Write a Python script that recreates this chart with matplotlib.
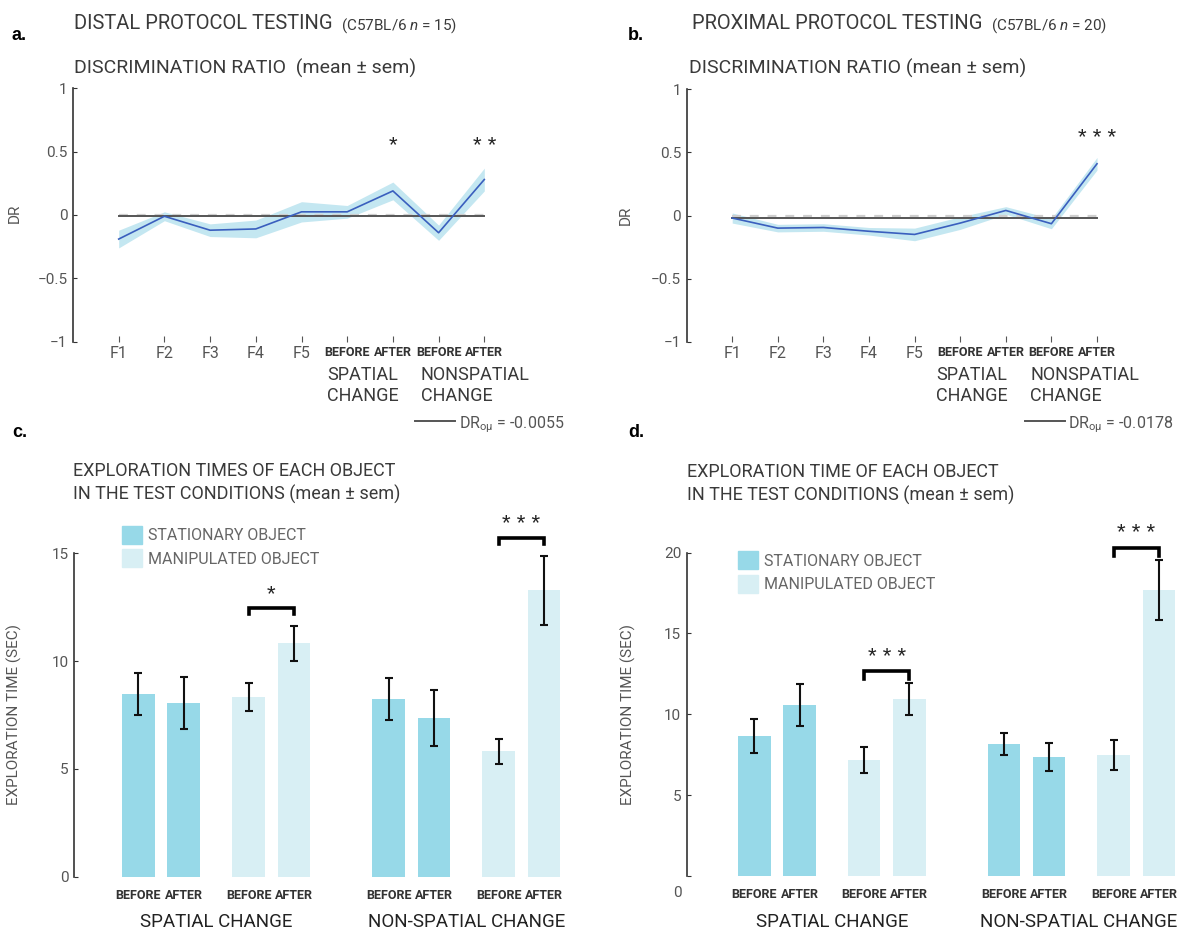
import matplotlib
matplotlib.use('Agg')
import matplotlib.pyplot as plt
from matplotlib import font_manager
from matplotlib.patches import Patch
import numpy as np

W, H = 1180, 934

# values
dr_ticks = ['F1', 'F2', 'F3', 'F4', 'F5', 'BEFORE', 'AFTER', 'BEFORE', 'AFTER']

distal_dr = [-0.19, -0.01, -0.12, -0.11, 0.025, 0.025, 0.19, -0.14, 0.28]
distal_dr_sem = [0.07, 0.035, 0.05, 0.07, 0.08, 0.05, 0.07, 0.06, 0.09]
distal_dr_grand = -0.0055
distal_dr_stars = [(7, 0.50, '*'), (9, 0.50, '* *')]

proximal_dr = [-0.02, -0.10, -0.095, -0.125, -0.15, -0.06, 0.04, -0.065, 0.41]
proximal_dr_sem = [0.04, 0.03, 0.03, 0.03, 0.05, 0.05, 0.03, 0.04, 0.05]
proximal_dr_grand = -0.0178
proximal_dr_stars = [(9, 0.57, '* * *')]

bar_ticks = ['BEFORE', 'AFTER'] * 4
bar_groups = ['SPATIAL CHANGE', 'NON-SPATIAL CHANGE']
bar_objects = ['STATIONARY OBJECT', 'MANIPULATED OBJECT']

distal_time = [8.47, 8.04, 8.33, 10.82, 8.24, 7.36, 5.81, 13.28]
distal_time_sem = [0.98, 1.2, 0.65, 0.8, 0.97, 1.3, 0.6, 1.6]
distal_sig = [(2, 3, '*'), (6, 7, '* * *')]

proximal_time = [8.66, 10.58, 7.18, 10.95, 8.16, 7.36, 7.48, 17.69]
proximal_time_sem = [1.06, 1.29, 0.8, 0.98, 0.7, 0.89, 0.93, 1.87]
proximal_sig = [(2, 3, '* * *'), (6, 7, '* * *')]

# colours
BLUE = '#3a5fbe'
BAND = '#c4e7f1'
STAT = '#97d9e8'
MANI = '#d8eff4'
TXT = '#3a3a3a'
GREY = '#555555'

installed = {f.name for f in font_manager.fontManager.ttflist}
NARROW = 'Liberation Sans Narrow' if 'Liberation Sans Narrow' in installed else 'Roboto'
plt.rcParams['font.family'] = [NARROW, 'DejaVu Sans']
plt.rcParams['mathtext.fontset'] = 'custom'
plt.rcParams['mathtext.rm'] = NARROW
plt.rcParams['mathtext.it'] = NARROW + ':italic'

fig = plt.figure(figsize=(W / 100, H / 100), dpi=100)


def rect(x0, y0, x1, y1):
    return [x0 / W, 1 - y1 / H, (x1 - x0) / W, (y1 - y0) / H]


def ftext(x, y, s, **kw):
    kw.setdefault('color', TXT)
    kw.setdefault('va', 'baseline')
    return fig.text(x / W, 1 - y / H, s, **kw)


def style_axis(ax):
    for side in ('top', 'right', 'bottom'):
        ax.spines[side].set_visible(False)
    ax.spines['left'].set_color('#333333')
    ax.spines['left'].set_linewidth(1.2)
    ax.tick_params(axis='y', direction='in', length=3, color='#333333',
                   labelsize=11, labelcolor=GREY, pad=4)


def dr_panel(ax, mean, sem, grand, stars, label_xy):
    x = np.arange(1, len(mean) + 1)
    m = np.array(mean)
    s = np.array(sem)
    ax.fill_between(x, m - s, m + s, color=BAND, lw=0, zorder=1)
    ax.plot([x[0], x[-1]], [0, 0], color='#cfcfcf', lw=1.6, ls=(0, (4, 4)), zorder=2)
    ax.plot([x[0], x[-1]], [grand, grand], color=GREY, lw=1.4, zorder=3)
    ax.plot(x, m, color=BLUE, lw=1.2, zorder=4)
    for xi, yi, st in stars:
        ax.text(xi, yi, st, ha='center', va='baseline', fontsize=16,
                family='Liberation Sans', color='#222222')
    ax.set_xlim(0, 10)
    ax.set_ylim(-1, 1)
    ax.set_yticks([-1, -0.5, 0, 0.5, 1])
    ax.set_yticklabels(['\u22121', '\u22120.5', '0', '0.5', '1'])
    style_axis(ax)
    ax.set_xticks(x)
    ax.set_xticklabels(dr_ticks)
    ax.tick_params(axis='x', direction='in', length=4, color='#555555', pad=3)
    for i, lab in enumerate(ax.get_xticklabels()):
        if i < 5:
            lab.set_fontsize(11.5)
            lab.set_color(GREY)
        else:
            lab.set_fontsize(9)
            lab.set_fontweight('bold')
            lab.set_color('#333333')
    ax.set_ylabel('DR', fontsize=11, color=GREY)
    ax.yaxis.set_label_coords(*label_xy)


def bar_panel(ax, vals, sems, sig, ymax, top_tick, leg_pos, bracket_gap, leg_len,
              star_gap, label_xy):
    pos = np.array([g * 5.52 + p * 2.43 + k for g in (0, 1) for p in (0, 1) for k in (0, 1)])
    cols = [STAT, STAT, MANI, MANI] * 2
    ax.bar(pos, vals, width=0.72, color=cols, zorder=1)
    ax.errorbar(pos, vals, yerr=sems, fmt='none', ecolor='#111111', elinewidth=1.5,
                capsize=3, capthick=1.5, zorder=2)
    for i, j, st in sig:
        y = max(vals[i] + sems[i], vals[j] + sems[j]) + bracket_gap
        ax.plot([pos[i], pos[i], pos[j], pos[j]], [y - leg_len, y, y, y - leg_len],
                color='black', lw=2.6, solid_joinstyle='miter', zorder=3)
        ax.text((pos[i] + pos[j]) / 2, y + star_gap, st, ha='center', va='baseline',
                fontsize=16, family='Liberation Sans', color='#222222')
    ax.set_ylim(0, ymax)
    ax.spines['left'].set_bounds(0, top_tick)
    style_axis(ax)
    ax.set_xticks(pos)
    ax.set_xticklabels(bar_ticks, fontsize=9, fontweight='bold', color='#333333')
    ax.tick_params(axis='x', length=0, pad=9)
    ax.legend(handles=[Patch(color=STAT, label=bar_objects[0]),
                       Patch(color=MANI, label=bar_objects[1])],
              loc='upper left', bbox_to_anchor=leg_pos, frameon=False, fontsize=11.5,
              handlelength=1.25, handleheight=1.35, handletextpad=0.35,
              labelspacing=0.35, borderpad=0, borderaxespad=0, labelcolor='#666666')
    ax.set_ylabel('EXPLORATION TIME (SEC)', fontsize=11, color=GREY)
    ax.yaxis.set_label_coords(*label_xy)
    return pos


# ---------------- panel a ----------------
ax_a = fig.add_axes(rect(73, 88.3, 530, 341.7))
dr_panel(ax_a, distal_dr, distal_dr_sem, distal_dr_grand, distal_dr_stars, (-0.112, 0.508))

# ---------------- panel b ----------------
ax_b = fig.add_axes(rect(686.6, 89.3, 1142.6, 341.7))
dr_panel(ax_b, proximal_dr, proximal_dr_sem, proximal_dr_grand, proximal_dr_stars,
         (-0.117, 0.5))

# ---------------- panel c ----------------
ax_c = fig.add_axes(rect(74.1, 499.4, 569, 876.7))
ax_c.set_xlim(-1.42, 9.5)
pos_c = bar_panel(ax_c, distal_time, distal_time_sem, distal_sig, 17.5, 15,
                  (0.097, 0.93), 0.85, 0.3, 0.35, (-0.105, 0.431))
ax_c.set_yticks([0, 5, 10, 15])

# ---------------- panel d ----------------
ax_d = fig.add_axes(rect(686.7, 512.2, 1180, 876))
ax_d.set_xlim(-1.5, 9.42)
pos_d = bar_panel(ax_d, proximal_time, proximal_time_sem, proximal_sig, 22.5, 20,
                  (0.104, 0.892), 0.75, 0.5, 0.52, (-0.103, 0.445))
ax_d.set_yticks([0, 5, 10, 15, 20])
ax_d.set_yticklabels(['', '5', '10', '15', '20'])
ftext(677.3, 897, '0', fontsize=11, color=GREY, ha='center')

# ---------------- titles and labels ----------------
renderer = fig.canvas.get_renderer()


def title_pair(x, y, big, small):
    t = ftext(x, y, big, fontsize=14.5)
    bb = t.get_window_extent(renderer)
    ftext(bb.x1 + 8, y, small, fontsize=11)


ftext(12, 40, 'a.', fontsize=13, fontweight='bold', color='black', family='Liberation Sans')
title_pair(74, 29.3, 'DISTAL PROTOCOL TESTING', '(C57BL/6 $n$ = 15)')
ftext(74, 73.3, 'DISCRIMINATION RATIO  (mean \u00b1 sem)', fontsize=14)

ftext(628, 40, 'b.', fontsize=13, fontweight='bold', color='black', family='Liberation Sans')
title_pair(692.3, 29.3, 'PROXIMAL PROTOCOL TESTING', '(C57BL/6 $n$ = 20)')
ftext(689, 73.3, 'DISCRIMINATION RATIO (mean \u00b1 sem)', fontsize=14)

ftext(12, 437, 'c.', fontsize=13, fontweight='bold', color='black', family='Liberation Sans')
ftext(73.4, 476, 'EXPLORATION TIMES OF EACH OBJECT', fontsize=13)
ftext(73.4, 499.3, 'IN THE TEST CONDITIONS (mean \u00b1 sem)', fontsize=13)

ftext(628, 437, 'd.', fontsize=13, fontweight='bold', color='black', family='Liberation Sans')
ftext(686.7, 476.7, 'EXPLORATION TIME OF EACH OBJECT', fontsize=13)
ftext(686.7, 500.7, 'IN THE TEST CONDITIONS (mean \u00b1 sem)', fontsize=13)

# change labels under the DR panels
for x0, lines in [(327.3, 'SPATIAL\nCHANGE'), (420.6, 'NONSPATIAL\nCHANGE'),
                  (936, 'SPATIAL\nCHANGE'), (1030.2, 'NONSPATIAL\nCHANGE')]:
    for k, ln in enumerate(lines.split('\n')):
        ftext(x0, 380 + 20.7 * k, ln, fontsize=13)

# grand-mean legend
for x0, val in [(415, distal_dr_grand), (1024.5, proximal_dr_grand)]:
    fig.add_artist(plt.Line2D([x0 / W, (x0 + 40) / W], [1 - 421 / H] * 2,
                              color=GREY, lw=1.4))
    ftext(x0 + 44, 428, 'DR$_{\\mathrm{o\u03bc}}$ = %s' % val, fontsize=11.5,
          color=GREY)

# group labels under the bar panels
for ax, pos in [(ax_c, pos_c), (ax_d, pos_d)]:
    for g, name in enumerate(bar_groups):
        xc = (pos[4 * g] + pos[4 * g + 3]) / 2
        xpix = ax.transData.transform((xc, 0))[0]
        ftext(min(xpix, 1079), 927, name, fontsize=13.5, ha='center', color='#222222')

fig.savefig('out.png', dpi=100)
